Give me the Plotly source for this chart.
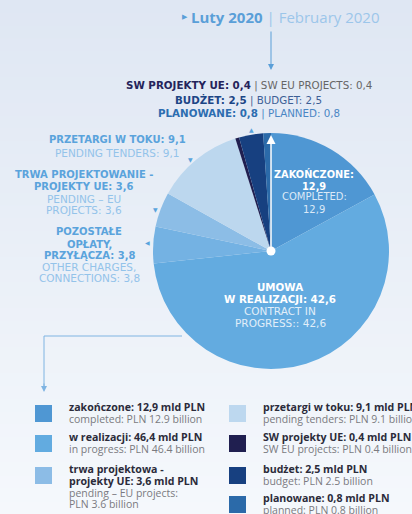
import plotly.graph_objects as go

# ---- data ----
slice_labels = ["zakończone", "umowa w realizacji", "pozostałe opłaty, przyłącza",
                "trwa projektowanie - projekty UE", "przetargi w toku",
                "SW projekty UE", "budżet", "planowane"]
slice_values = [12.9, 42.6, 3.8, 3.6, 9.1, 0.4, 2.5, 0.8]
slice_colors = ["#4f97d3", "#63abe0", "#74b2e3", "#8cbde6", "#bcd7ee",
                "#201f50", "#174080", "#2b6aa9"]

legend_bold = [["zakończone: 12,9 mld PLN"], ["w realizacji: 46,4 mld PLN"],
               ["trwa projektowa -", "projekty UE: 3,6 mld PLN"],
               ["przetargi w toku: 9,1 mld PLN"], ["SW projekty UE: 0,4 mld PLN"],
               ["budżet: 2,5 mld PLN"], ["planowane: 0,8 mld PLN"]]
legend_light = [["completed: PLN 12.9 billion"], ["in progress: PLN 46.4 billion"],
                ["pending – EU projects:", "PLN 3.6 billion"],
                ["pending tenders: PLN 9.1 billion"], ["SW EU projects: PLN 0.4 billion"],
                ["budget: PLN 2.5 billion"], ["planned: PLN 0.8 billion"]]
legend_colors = ["#4f97d3", "#62abe0", "#8cbce6", "#bdd8ef", "#201f50", "#174080", "#2b6aa9"]

W, H = 412, 514
FONT = "Open Sans"
CAPS = "DejaVu Sans"


def px(x):
    return x / W


def py(y):
    return 1 - y / H


fig = go.Figure()

cx, cy, r = 271, 251, 118
fig.add_trace(go.Pie(
    labels=slice_labels, values=slice_values, sort=False, direction="clockwise",
    rotation=0, marker=dict(colors=slice_colors, line=dict(width=0)),
    textinfo="none", hoverinfo="label+value", showlegend=False,
    domain=dict(x=[px(cx - r), px(cx + r)], y=[py(cy + r), py(cy - r)])
))

shapes = []
# background gradient
top = (0xdf, 0xe7, 0xf3)
bot = (0xf5, 0xf8, 0xfc)
n = 40
for i in range(n):
    t = i / (n - 1)
    c = tuple(int(round(top[k] + (bot[k] - top[k]) * t)) for k in range(3))
    shapes.append(dict(type="rect", xref="paper", yref="paper", x0=0, x1=1,
                       y0=1 - (i + 1) / n - 0.002, y1=1 - i / n,
                       fillcolor="rgb(%d,%d,%d)" % c, line=dict(width=0), layer="below"))

# connector line from pie to legend
shapes.append(dict(type="line", xref="paper", yref="paper", x0=px(182), x1=px(44),
                   y0=py(336), y1=py(336), line=dict(color="#7fb4e2", width=1)))
shapes.append(dict(type="line", xref="paper", yref="paper", x0=px(44), x1=px(44),
                   y0=py(336), y1=py(388), line=dict(color="#7fb4e2", width=1)))
# center dot
shapes.append(dict(type="circle", xref="paper", yref="paper",
                   x0=px(cx - 4.5), x1=px(cx + 4.5), y0=py(cy + 4.5), y1=py(cy - 4.5),
                   fillcolor="white", line=dict(width=0)))

ann = []


def text(x, y, t, size=10, color="#333", xa="center", fam=CAPS):
    ann.append(dict(x=px(x), y=py(y), xref="paper", yref="paper", text=t,
                    showarrow=False, xanchor=xa, yanchor="middle", align="center",
                    font=dict(family=fam, size=size, color=color)))


def block(x, lines, bold_color, light_color, bsize=10, lsize=10.5):
    for t, y, bold in lines:
        if bold:
            text(x, y, "<b>%s</b>" % t, size=bsize, color=bold_color)
        else:
            text(x, y, t, size=lsize, color=light_color)


# title
text(285, 17, "<b>Luty 2020</b> <span style='color:#9cc6ea'>| February 2020</span>",
     size=15, color="#5a9fd8", fam=FONT)
text(185, 17, "▶", size=7, color="#5a9fd8")
# title arrow
ann.append(dict(x=px(271), y=py(70), xref="paper", yref="paper", ax=0, ay=-40,
                text="", showarrow=True, arrowhead=2, arrowsize=1.2, arrowwidth=1,
                arrowcolor="#5a9fd8"))
# white arrow on pie
ann.append(dict(x=px(271), y=py(135), xref="paper", yref="paper", ax=0, ay=114,
                text="", showarrow=True, arrowhead=2, arrowsize=1.2, arrowwidth=1.5,
                arrowcolor="white"))

# top labels
text(249, 86, "<b>SW PROJEKTY UE: 0,4</b> <span style='color:#666'>| SW EU PROJECTS: 0,4</span>",
     size=10.3, color="#24235a")
text(249, 100, "<b>BUDŻET: 2,5</b> <span style='color:#3d5f96'>| BUDGET: 2,5</span>",
     size=10.3, color="#1c4585")
text(249, 113, "<b>PLANOWANE: 0,8</b> <span style='color:#4a86c4'>| PLANNED: 0,8</span>",
     size=10.3, color="#2c6db0")
text(252, 129, "▲", size=6, color="#5aa3dc")

LB = "#5aa3dc"
LL = "#93c3ea"
# left labels
block(117, [("PRZETARGI W TOKU: 9,1", 140, True), ("PENDING TENDERS: 9,1", 153, False)], LB, LL)
text(190, 159, "▼", size=6, color=LB)
block(84, [("TRWA PROJEKTOWANIE -", 174, True), ("PROJEKTY UE: 3,6", 186, True),
           ("PENDING – EU", 199, False), ("PROJECTS: 3,6", 210, False)], LB, LL)
text(155, 209, "▼", size=6, color=LB)
block(89, [("POZOSTAŁE", 232, True), ("OPŁATY,", 244, True), ("PRZYŁĄCZA: 3,8", 255, True),
           ("OTHER CHARGES,", 267, False), ("CONNECTIONS: 3,8", 278, False)], LB, LL)
text(147, 242, "◀", size=6, color=LB)

# inside labels
block(314, [("ZAKOŃCZONE:", 174, True), ("12,9", 186, True),
            ("COMPLETED:", 197, False), ("12,9", 209, False)], "white", "#dbe9f7",
      bsize=9.8, lsize=10)
block(280, [("UMOWA", 287, True), ("W REALIZACJI: 42,6", 299, True),
            ("CONTRACT IN", 311, False), ("PROGRESS:: 42,6", 323, False)], "white", "#e1eef9",
      bsize=10.3, lsize=10.5)

# legend
ann.append(dict(x=px(44), y=py(392), xref="paper", yref="paper", ax=0, ay=-10,
                text="", showarrow=True, arrowhead=2, arrowsize=1.2, arrowwidth=1,
                arrowcolor="#7fb4e2"))
left_rows = [407, 437, 469]
right_rows = [407, 437, 469, 498]
positions = [(35, y) for y in left_rows] + [(229, y) for y in right_rows]
LH = 11.8
for (x, y), bl, ll, c in zip(positions, legend_bold, legend_light, legend_colors):
    shapes.append(dict(type="rect", xref="paper", yref="paper",
                       x0=px(x), x1=px(x + 17), y0=py(y + 15), y1=py(y - 2),
                       fillcolor=c, line=dict(width=0)))
    yy = y
    for t in bl:
        ann.append(dict(x=px(x + 32), y=py(yy), xref="paper", yref="paper",
                        text="<b>%s</b>" % t, showarrow=False, xanchor="left",
                        yanchor="middle", align="left",
                        font=dict(family=FONT, size=10.6, color="#2b2b3a")))
        yy += LH
    for t in ll:
        ann.append(dict(x=px(x + 32), y=py(yy), xref="paper", yref="paper",
                        text=t, showarrow=False, xanchor="left",
                        yanchor="middle", align="left",
                        font=dict(family=FONT, size=10.5, color="#7a7a80")))
        yy += LH

fig.update_layout(width=W, height=H, margin=dict(l=0, r=0, t=0, b=0),
                  paper_bgcolor="#eaeff7", plot_bgcolor="#eaeff7",
                  shapes=shapes, annotations=ann, showlegend=False)

fig.write_html("out.html", config={"displayModeBar": False},
               post_script="document.body.style.margin='0';document.body.style.overflow='hidden';")
